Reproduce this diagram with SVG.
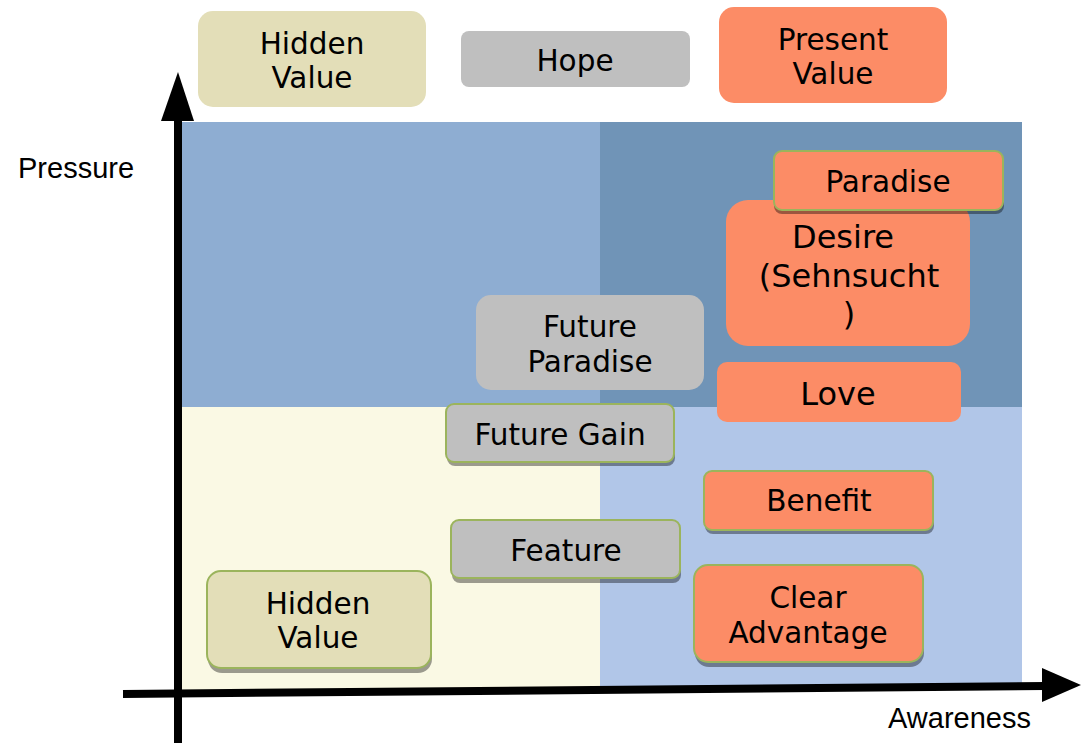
<svg xmlns="http://www.w3.org/2000/svg" width="1081" height="743" viewBox="0 0 1081 743">
<defs>
<style>
.t{font-family:"DejaVu Sans",Verdana,sans-serif;font-size:29.5px;fill:#000;text-anchor:middle}
.big{font-size:32px}
.ax{font-family:"Liberation Sans",Arial,sans-serif;font-size:29px;fill:#000}
.khaki{fill:#E3DEB8}
.gray{fill:#BFBFBF}
.sal{fill:#FC8C66}
.edge{stroke:#9BB45C;stroke-width:2}
.sh{fill:#000;fill-opacity:0.38}
</style>
</defs>
<rect width="1081" height="743" fill="#fff"/>
<g id="quadrants">
<rect x="181" y="122" width="419" height="285" fill="#8EADD2"/>
<rect x="600" y="122" width="422" height="285" fill="#7094B7"/>
<rect x="181" y="407" width="419" height="283" fill="#FAF9E4"/>
<rect x="600" y="407" width="422" height="283" fill="#B1C6E8"/>
</g>
<g id="connectors">
<line x1="178" y1="743" x2="178" y2="118" stroke="#000" stroke-width="8"/>
<polygon points="178,72 194,121 161,121" fill="#000"/>
<line x1="123" y1="694" x2="1045" y2="686" stroke="#000" stroke-width="8"/>
<polygon points="1081,685 1042,668 1042,702" fill="#000"/>
</g>
<text class="ax" x="18" y="178">Pressure</text>
<text class="ax" x="888" y="728">Awareness</text>
<g id="hidden-value-top">
<rect class="khaki" x="198" y="11" width="228" height="96" rx="15"/>
<text class="t" x="312" y="54">Hidden</text>
<text class="t" x="312" y="88">Value</text>
</g>
<g id="hope">
<rect class="gray" x="461" y="31" width="229" height="56" rx="8"/>
<text class="t" x="575" y="71">Hope</text>
</g>
<g id="present-value">
<rect class="sal" x="719" y="7" width="228" height="96" rx="15"/>
<text class="t" x="833" y="50">Present</text>
<text class="t" x="833" y="84">Value</text>
</g>
<g id="desire">
<rect class="sal" x="726" y="200" width="244" height="146" rx="22"/>
<text class="t big" x="843" y="248">Desire</text>
<text class="t big" x="849" y="287">(Sehnsucht</text>
<text class="t big" x="849" y="325">)</text>
</g>
<g id="paradise">
<rect class="sh" x="774" y="155" width="230" height="59" rx="8"/>
<rect class="sal edge" x="774" y="151" width="229" height="59" rx="8"/>
<text class="t" x="888" y="192">Paradise</text>
</g>
<g id="future-paradise">
<rect class="gray" x="476" y="295" width="228" height="95" rx="15"/>
<text class="t" x="590" y="337">Future</text>
<text class="t" x="590" y="372">Paradise</text>
</g>
<g id="love">
<rect class="sal" x="717" y="362" width="244" height="60" rx="10"/>
<text class="t big" x="838" y="405">Love</text>
</g>
<g id="future-gain">
<rect class="sh" x="447" y="409" width="228" height="57" rx="8"/>
<rect class="gray edge" x="446" y="404" width="228" height="58" rx="8"/>
<text class="t" x="560" y="445">Future Gain</text>
</g>
<g id="benefit">
<rect class="sh" x="705" y="476" width="229" height="58" rx="8"/>
<rect class="sal edge" x="704" y="471" width="229" height="59" rx="8"/>
<text class="t" x="819" y="511">Benefit</text>
</g>
<g id="feature">
<rect class="sh" x="452" y="524" width="229" height="59" rx="8"/>
<rect class="gray edge" x="451" y="520" width="229" height="58" rx="8"/>
<text class="t" x="566" y="561">Feature</text>
</g>
<g id="hidden-value-bottom">
<rect class="sh" x="208" y="576" width="224" height="97" rx="14"/>
<rect class="khaki edge" x="207" y="571" width="224" height="97" rx="14"/>
<text class="t" x="318" y="614">Hidden</text>
<text class="t" x="318" y="648">Value</text>
</g>
<g id="clear-advantage">
<rect class="sh" x="695" y="570" width="229" height="97" rx="14"/>
<rect class="sal edge" x="694" y="565" width="229" height="97" rx="14"/>
<text class="t" x="808" y="608">Clear</text>
<text class="t" x="808" y="643">Advantage</text>
</g>
</svg>
